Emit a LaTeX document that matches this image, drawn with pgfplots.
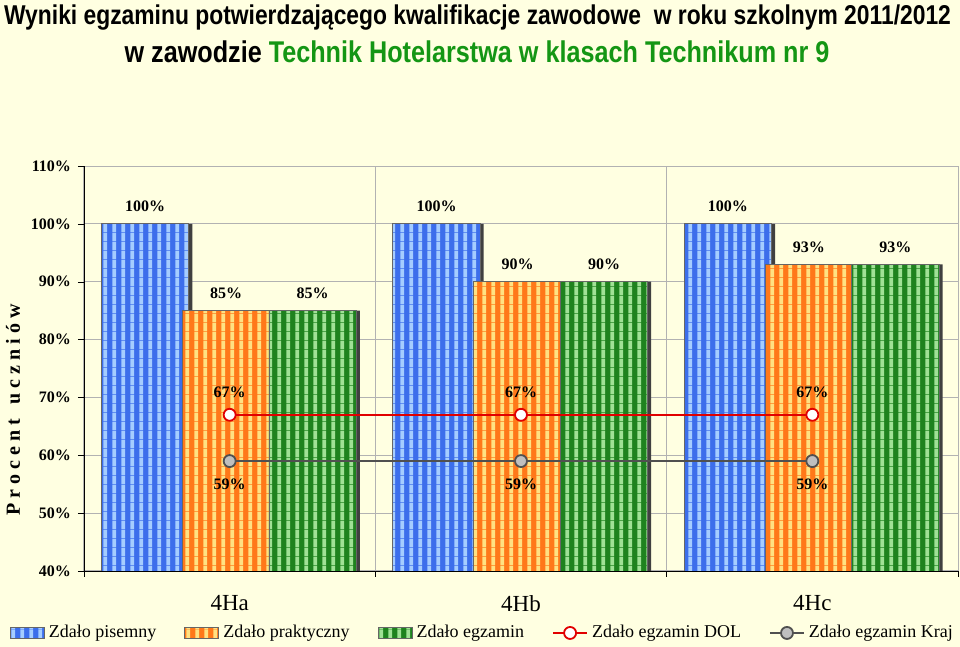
\documentclass[border=0pt]{standalone}
\usepackage{pgfplots}
\pgfplotsset{compat=1.18}
\usepackage{fontspec}
\setmainfont{Liberation Serif}
\newfontfamily\titlefont[FakeStretch=0.84]{Liberation Sans}
\usetikzlibrary{patterns}
\definecolor{bg}{RGB}{255,255,225}
\definecolor{blueB}{RGB}{60,110,235}
\definecolor{blueL}{RGB}{165,205,255}
\definecolor{orangeB}{RGB}{255,120,25}
\definecolor{orangeL}{RGB}{255,225,130}
\definecolor{greenB}{RGB}{30,130,30}
\definecolor{greenL}{RGB}{160,225,150}
\definecolor{tgreen}{RGB}{20,150,20}
\definecolor{dolred}{RGB}{225,0,0}
\definecolor{krajgray}{RGB}{80,80,80}
\pgfdeclarepatternformonly{vstripes}{\pgfqpoint{0pt}{0pt}}{\pgfqpoint{4.6pt}{4.6pt}}{\pgfqpoint{4.6pt}{4.6pt}}{\pgfpathrectangle{\pgfqpoint{1.3pt}{0pt}}{\pgfqpoint{2pt}{4.6pt}}\pgfusepath{fill}}
\begin{document}
\begin{tikzpicture}[x=1pt,y=1pt]
\fill[bg] (0,0) rectangle (480,323.5);
\useasboundingbox (0,0) rectangle (480,323.5);
\node at (238.75,314.5) {\titlefont\bfseries\fontsize{13.6}{15}\selectfont Wyniki egzaminu potwierdzającego kwalifikacje zawodowe\ \ w roku szkolnym 2011/2012};
\node at (238.5,297.5) {\titlefont\bfseries\fontsize{15}{17}\selectfont w zawodzie \textcolor{tgreen}{Technik Hotelarstwa w klasach Technikum nr 9}};
\node[rotate=90] at (6.5,118.5) {\bfseries\fontsize{10}{12}\selectfont P r o c e n t\ \ \ u c z n i ó w};
\begin{axis}[
  at={(42pt,38pt)}, anchor=south west, scale only axis,
  width=437pt, height=202.5pt,
  xmin=-0.5, xmax=2.5, ymin=40, ymax=110,
  axis x line*=bottom, axis y line*=left, axis line style={-, black},
  ytick={40,50,...,110},
  yticklabel={\pgfmathprintnumber{\tick}\%},
  xtick={-0.5,0.5,1.5,2.5}, xticklabels={},
  extra x ticks={0,1,2}, extra x tick labels={4Ha,4Hb,4Hc},
  extra x tick style={major tick length=0pt, grid=none,
    tick label style={font=\fontsize{11.5}{13}\selectfont, yshift=-8.5pt}},
  grid=major, major grid style={black!30, line width=0.5pt},
  tick align=outside, major tick length=3pt,
  tick style={black},
  tick label style={font=\bfseries\fontsize{8}{9}\selectfont},
  /pgf/number format/assume math mode=true,
  legend style={at={(0.457,-0.153)}, anchor=center, draw=none, fill=none,
    legend columns=5, font=\fontsize{9}{11}\selectfont,
    /tikz/every even column/.append style={column sep=12pt}},
  legend cell align=left,
  clip=true,
]
% blue
\addplot[ybar, bar width=0.3, bar shift=0.012, fill=black!75, draw=none, forget plot] coordinates {(-0.29,100) (0.71,100) (1.71,100)};
\addplot[ybar, bar width=0.3, bar shift=0, fill=blueB, draw=black!60, line width=0.4pt,
  postaction={pattern=vstripes, pattern color=blueL}, area legend,
  nodes near coords={\pgfmathprintnumber{\pgfplotspointmeta}\%},
  nodes near coords style={font=\bfseries\fontsize{8}{9}\selectfont, yshift=2.5pt}]
  coordinates {(-0.29,100) (0.71,100) (1.71,100)};
\addlegendentry{Zdało pisemny}
% orange
\addplot[ybar, bar width=0.3, bar shift=0.012, fill=black!75, draw=none, forget plot] coordinates {(-0.012,85) (0.988,90) (1.988,93)};
\addplot[ybar, bar width=0.3, bar shift=0, fill=orangeB, draw=black!60, line width=0.4pt,
  postaction={pattern=vstripes, pattern color=orangeL}, area legend,
  nodes near coords={\pgfmathprintnumber{\pgfplotspointmeta}\%},
  nodes near coords style={font=\bfseries\fontsize{8}{9}\selectfont, yshift=2.5pt}]
  coordinates {(-0.012,85) (0.988,90) (1.988,93)};
\addlegendentry{Zdało praktyczny}
% green
\addplot[ybar, bar width=0.3, bar shift=0.012, fill=black!75, draw=none, forget plot] coordinates {(0.285,85) (1.285,90) (2.285,93)};
\addplot[ybar, bar width=0.3, bar shift=0, fill=greenB, draw=black!60, line width=0.4pt,
  postaction={pattern=vstripes, pattern color=greenL}, area legend,
  nodes near coords={\pgfmathprintnumber{\pgfplotspointmeta}\%},
  nodes near coords style={font=\bfseries\fontsize{8}{9}\selectfont, yshift=2.5pt}]
  coordinates {(0.285,85) (1.285,90) (2.285,93)};
\addlegendentry{Zdało egzamin}
% lines
\addplot[dolred, line width=0.9pt, mark=*, mark size=3pt, mark options={fill=white, draw=dolred, line width=0.9pt},
  nodes near coords={\pgfmathprintnumber{\pgfplotspointmeta}\%},
  nodes near coords style={font=\bfseries\fontsize{8}{9}\selectfont, text=black, anchor=south, yshift=5pt}]
  coordinates {(0,67) (1,67) (2,67)};
\addlegendentry{Zdało egzamin DOL}
\addplot[krajgray, line width=0.9pt, mark=*, mark size=3pt, mark options={fill=black!25, draw=krajgray, line width=0.9pt},
  nodes near coords={\pgfmathprintnumber{\pgfplotspointmeta}\%},
  nodes near coords style={font=\bfseries\fontsize{8}{9}\selectfont, text=black, anchor=north, yshift=-5pt}]
  coordinates {(0,59) (1,59) (2,59)};
\addlegendentry{Zdało egzamin Kraj}
\end{axis}
\end{tikzpicture}
\end{document}
